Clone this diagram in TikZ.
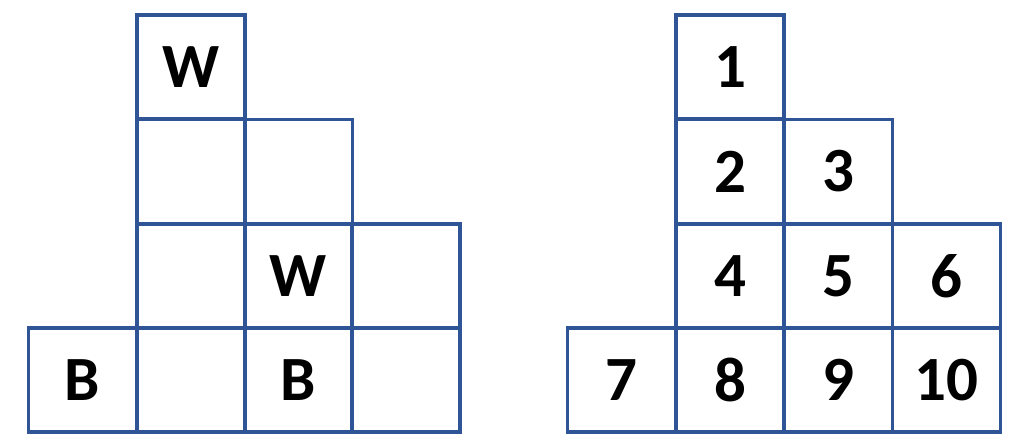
\documentclass[tikz,border=0pt]{standalone}
\usepackage{fontspec}
\setmainfont{Carlito}
\definecolor{gridblue}{HTML}{2F5597}
\newcommand{\celltext}[1]{\raisebox{-3.5pt}{#1}}
\begin{document}
\begin{tikzpicture}[x=1pt,y=-1pt,
  cell/.style={draw=gridblue,line width=3.6pt,minimum width=108pt,minimum height=104.3pt,inner sep=0pt,anchor=center,font=\fontsize{63}{63}\selectfont\bfseries,text=black}]
\useasboundingbox[fill=white] (0,0) rectangle (1024,444);
% left grid
\def\ya{67}\def\yb{171.5}\def\yc{276}\def\yd{380}
\node[cell] (l1) at (191,\ya) {\celltext{W}};
\node[cell] (l2) at (191,\yb) {};
\node[cell] (l3) at (298.5,\yb) {};
\node[cell] (l4) at (191,\yc) {};
\node[cell] (l5) at (298.5,\yc) {\celltext{W}};
\node[cell] (l6) at (406,\yc) {};
\node[cell] (l7) at (82.5,\yd) {\celltext{B}};
\node[cell] (l8) at (191,\yd) {};
\node[cell] (l9) at (298.5,\yd) {\celltext{B}};
\node[cell] (l10) at (406,\yd) {};
% right grid
\node[cell] (r1) at (730,\ya) {\celltext{1}};
\node[cell] (r2) at (730,\yb) {\celltext{2}};
\node[cell] (r3) at (838.5,\yb) {\celltext{3}};
\node[cell] (r4) at (730,\yc) {\celltext{4}};
\node[cell] (r5) at (838.5,\yc) {\celltext{5}};
\node[cell] (r6) at (946.5,\yc) {\celltext{6}};
\node[cell] (r7) at (621.5,\yd) {\celltext{7}};
\node[cell] (r8) at (730,\yd) {\celltext{8}};
\node[cell] (r9) at (838.5,\yd) {\celltext{9}};
\node[cell] (r10) at (946.5,\yd) {\celltext{10}};
\end{tikzpicture}
\end{document}
